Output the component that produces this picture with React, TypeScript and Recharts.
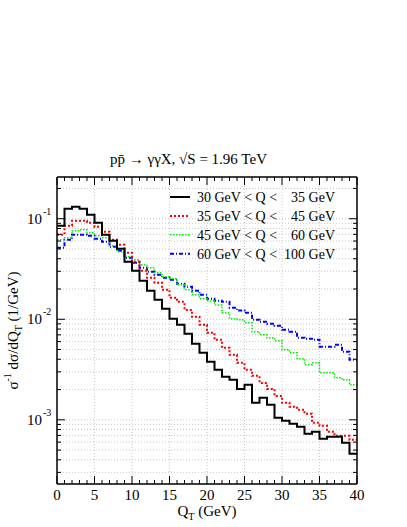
import { LineChart, Line, XAxis, YAxis, CartesianGrid } from 'recharts'

// bin left edges in GeV (last point closes the final step)
const qtEdges = [
  0, 1, 2, 3, 4, 5, 6, 7, 8, 9, 10, 11, 12, 13, 14, 15, 16, 17, 18, 19, 20,
  21, 22, 23, 24, 25, 26, 27, 28, 29, 30, 31, 32, 33, 34, 35, 36, 37, 38, 39, 40,
]

// 30 GeV < Q < 35 GeV
const q30to35 = [
  0.0852, 0.1257, 0.1316, 0.1257, 0.1096, 0.0912, 0.0693, 0.0604, 0.0503, 0.0373,
  0.0304, 0.0242, 0.0192, 0.0156, 0.0127, 0.0101, 0.00882, 0.00717, 0.0057, 0.00464,
  0.00378, 0.00314, 0.00268, 0.0025, 0.00203, 0.00223, 0.00148, 0.00166, 0.00141, 0.00105,
  0.00098, 0.000912, 0.000852, 0.000726, 0.00076, 0.000647, 0.000677, 0.000677, 0.00059, 0.000459,
  0.000459,
]

// 35 GeV < Q < 45 GeV
const q35to45 = [
  0.0693, 0.0852, 0.0955, 0.0955, 0.0912, 0.0833, 0.0742, 0.0618, 0.0551, 0.0459,
  0.0373, 0.0304, 0.0259, 0.0231, 0.0197, 0.0164, 0.0149, 0.0124, 0.0106, 0.00882,
  0.00734, 0.00625, 0.00521, 0.00443, 0.00369, 0.00314, 0.00274, 0.00233, 0.00203, 0.00173,
  0.00148, 0.00135, 0.00126, 0.00115, 0.000933, 0.000872, 0.00076, 0.000693, 0.000693, 0.000632,
  0.000632,
]

// 45 GeV < Q < 60 GeV
const q45to60 = [
  0.0618, 0.0647, 0.076, 0.0777, 0.0726, 0.0677, 0.0647, 0.0539, 0.0469, 0.0419,
  0.0391, 0.0349, 0.0325, 0.029, 0.0265, 0.0253, 0.022, 0.0197, 0.0175, 0.016,
  0.0153, 0.0139, 0.0116, 0.0101, 0.00989, 0.00923, 0.00751, 0.00701, 0.00655, 0.00611,
  0.00497, 0.00464, 0.00405, 0.00353, 0.00369, 0.00294, 0.00294, 0.00262, 0.0025, 0.00223,
  0.00223,
]

// 60 GeV < Q < 100 GeV
const q60to100 = [
  0.0515, 0.0618, 0.0693, 0.0693, 0.0677, 0.0632, 0.059, 0.0527, 0.048, 0.0409,
  0.0365, 0.0325, 0.0297, 0.0277, 0.0259, 0.0247, 0.0225, 0.0211, 0.0192, 0.0175,
  0.016, 0.0153, 0.0149, 0.013, 0.0122, 0.0116, 0.00989, 0.00944, 0.00902, 0.00862,
  0.00786, 0.00751, 0.00655, 0.0064, 0.00625, 0.00532, 0.00532, 0.00557, 0.00475, 0.00395,
  0.00395,
]

const xGridValues = [5, 10, 15, 20, 25, 30, 35]
const yTicks = [
  0.0003, 0.0004, 0.0005, 0.0006, 0.0007, 0.0008, 0.0009,
  0.001, 0.002, 0.003, 0.004, 0.005, 0.006, 0.007, 0.008, 0.009,
  0.01, 0.02, 0.03, 0.04, 0.05, 0.06, 0.07, 0.08, 0.09,
  0.1, 0.2,
]
const yDomain = [0.00023, 0.26]

const legendRows = [
  { lo: '30', hi: '35', color: '#000000', dash: undefined, width: 2 },
  { lo: '35', hi: '45', color: '#ff0000', dash: '2 2', width: 2 },
  { lo: '45', hi: '60', color: '#00ee00', dash: '1.5 1.5', width: 1.5 },
  { lo: '60', hi: '100', color: '#0000ff', dash: '4 2 1 2', width: 2 },
]

const data = qtEdges.map((qt, i) => ({
  qt,
  a: q30to35[i],
  b: q35to45[i],
  c: q45to60[i],
  d: q60to100[i],
}))

const FONT = '"Liberation Serif", "Times New Roman", "DejaVu Serif", serif'
const serif = { fontFamily: FONT }

function isDecade(v: number) {
  const e = Math.log10(v)
  return Math.abs(e - Math.round(e)) < 1e-6
}

function BottomTick({ x, y, payload }: any) {
  const major = payload.value % 5 === 0
  return (
    <g>
      <line x1={x} y1={y} x2={x} y2={y - (major ? 8 : 4)} stroke="#000" />
      {major && (
        <text x={x} y={y + 16} textAnchor="middle" fontSize={15} style={serif} fill="#000">
          {payload.value}
        </text>
      )}
    </g>
  )
}

function TopTick({ x, y, payload }: any) {
  const major = payload.value % 5 === 0
  return <line x1={x} y1={y} x2={x} y2={y + (major ? 8 : 4)} stroke="#000" />
}

function LeftTick({ x, y, payload }: any) {
  const dec = isDecade(payload.value)
  return (
    <g>
      <line x1={x} y1={y} x2={x + (dec ? 8 : 4)} y2={y} stroke="#000" />
      {dec && (
        <text x={x - 30} y={y + 5} fontSize={15} style={serif} fill="#000">
          10
          <tspan dx={1} dy={-9} fontSize={10}>
            {Math.round(Math.log10(payload.value))}
          </tspan>
        </text>
      )}
    </g>
  )
}

function RightTick({ x, y, payload }: any) {
  const dec = isDecade(payload.value)
  return <line x1={x} y1={y} x2={x - (dec ? 8 : 4)} y2={y} stroke="#000" />
}

function XTitle({ viewBox }: any) {
  const cx = viewBox.x + viewBox.width / 2
  return (
    <text x={cx} y={viewBox.y + 32} textAnchor="middle" fontSize={15} style={serif} fill="#000">
      Q
      <tspan dy={4} fontSize={10}>T</tspan>
      <tspan dy={-4}> (GeV)</tspan>
    </text>
  )
}

function YTitle({ viewBox }: any) {
  const cy = viewBox.y + viewBox.height / 2
  return (
    <text
      x={18}
      y={cy}
      transform={`rotate(-90 18 ${cy})`}
      textAnchor="middle"
      fontSize={15}
      style={serif}
      fill="#000"
    >
      σ
      <tspan dy={-7} fontSize={10}>-1</tspan>
      <tspan dy={7}> dσ/dQ</tspan>
      <tspan dy={4} fontSize={10}>T</tspan>
      <tspan dy={-4}> (1/GeV)</tspan>
    </text>
  )
}

export default function App() {
  return (
    <div style={{ position: 'absolute', left: 0, top: 0, width: 407, height: 527, background: '#fff' }}>
      <LineChart
        width={407}
        height={527}
        data={data}
        margin={{ top: 176, right: 49, bottom: 0, left: 0 }}
      >
        <CartesianGrid
          stroke="#c8c8c8"
          strokeDasharray="1 2"
          verticalValues={xGridValues}
        />
        <XAxis
          dataKey="qt"
          type="number"
          domain={[0, 40]}
          ticks={qtEdges}
          interval={0}
          height={43}
          tickSize={0}
          tickMargin={0}
          tickLine={false}
          axisLine={{ stroke: '#000', strokeWidth: 1.5 }}
          tick={<BottomTick />}
          label={{ content: <XTitle /> }}
        />
        <XAxis
          xAxisId="top"
          orientation="top"
          dataKey="qt"
          type="number"
          domain={[0, 40]}
          ticks={qtEdges}
          interval={0}
          height={1}
          tickSize={0}
          tickMargin={0}
          tickLine={false}
          axisLine={{ stroke: '#000', strokeWidth: 1.5 }}
          tick={<TopTick />}
        />
        <YAxis
          scale="log"
          type="number"
          domain={yDomain}
          allowDataOverflow
          ticks={yTicks}
          interval={0}
          width={57}
          tickSize={0}
          tickMargin={0}
          tickLine={false}
          axisLine={{ stroke: '#000', strokeWidth: 1.5 }}
          tick={<LeftTick />}
          label={{ content: <YTitle /> }}
        />
        <YAxis
          yAxisId="right"
          orientation="right"
          scale="log"
          type="number"
          domain={yDomain}
          allowDataOverflow
          ticks={yTicks}
          interval={0}
          width={1}
          tickSize={0}
          tickMargin={0}
          tickLine={false}
          axisLine={{ stroke: '#000', strokeWidth: 1.5 }}
          tick={<RightTick />}
        />
        <Line type="stepAfter" dataKey="d" stroke="#0000ff" strokeWidth={2} strokeDasharray="4 2 1 2" dot={false} isAnimationActive={false} />
        <Line type="stepAfter" dataKey="c" stroke="#00ee00" strokeWidth={1.5} strokeDasharray="1.5 1.5" dot={false} isAnimationActive={false} />
        <Line type="stepAfter" dataKey="b" stroke="#ff0000" strokeWidth={2} strokeDasharray="2 2" dot={false} isAnimationActive={false} />
        <Line type="stepAfter" dataKey="a" stroke="#000000" strokeWidth={2} dot={false} isAnimationActive={false} />
      </LineChart>
      <svg
        width={407}
        height={527}
        style={{ position: 'absolute', left: 0, top: 0, pointerEvents: 'none', fontFamily: FONT }}
      >
        <text x={110} y={164} fontSize={15} fill="#000" style={serif}>
          pp̄ → γγX, √S = 1.96 TeV
        </text>
        {legendRows.map((r, i) => {
          const cy = 197 + i * 18.9
          return (
            <g key={r.lo}>
              <line x1={170} y1={cy} x2={190} y2={cy} stroke={r.color} strokeWidth={r.width} strokeDasharray={r.dash} />
              <text x={197} y={cy + 5} fontSize={14} fill="#000" style={serif}>
                {r.lo} GeV &lt; Q &lt;
              </text>
              <text x={335} y={cy + 5} fontSize={14} fill="#000" textAnchor="end" style={serif}>
                {r.hi} GeV
              </text>
            </g>
          )
        })}
      </svg>
    </div>
  )
}
